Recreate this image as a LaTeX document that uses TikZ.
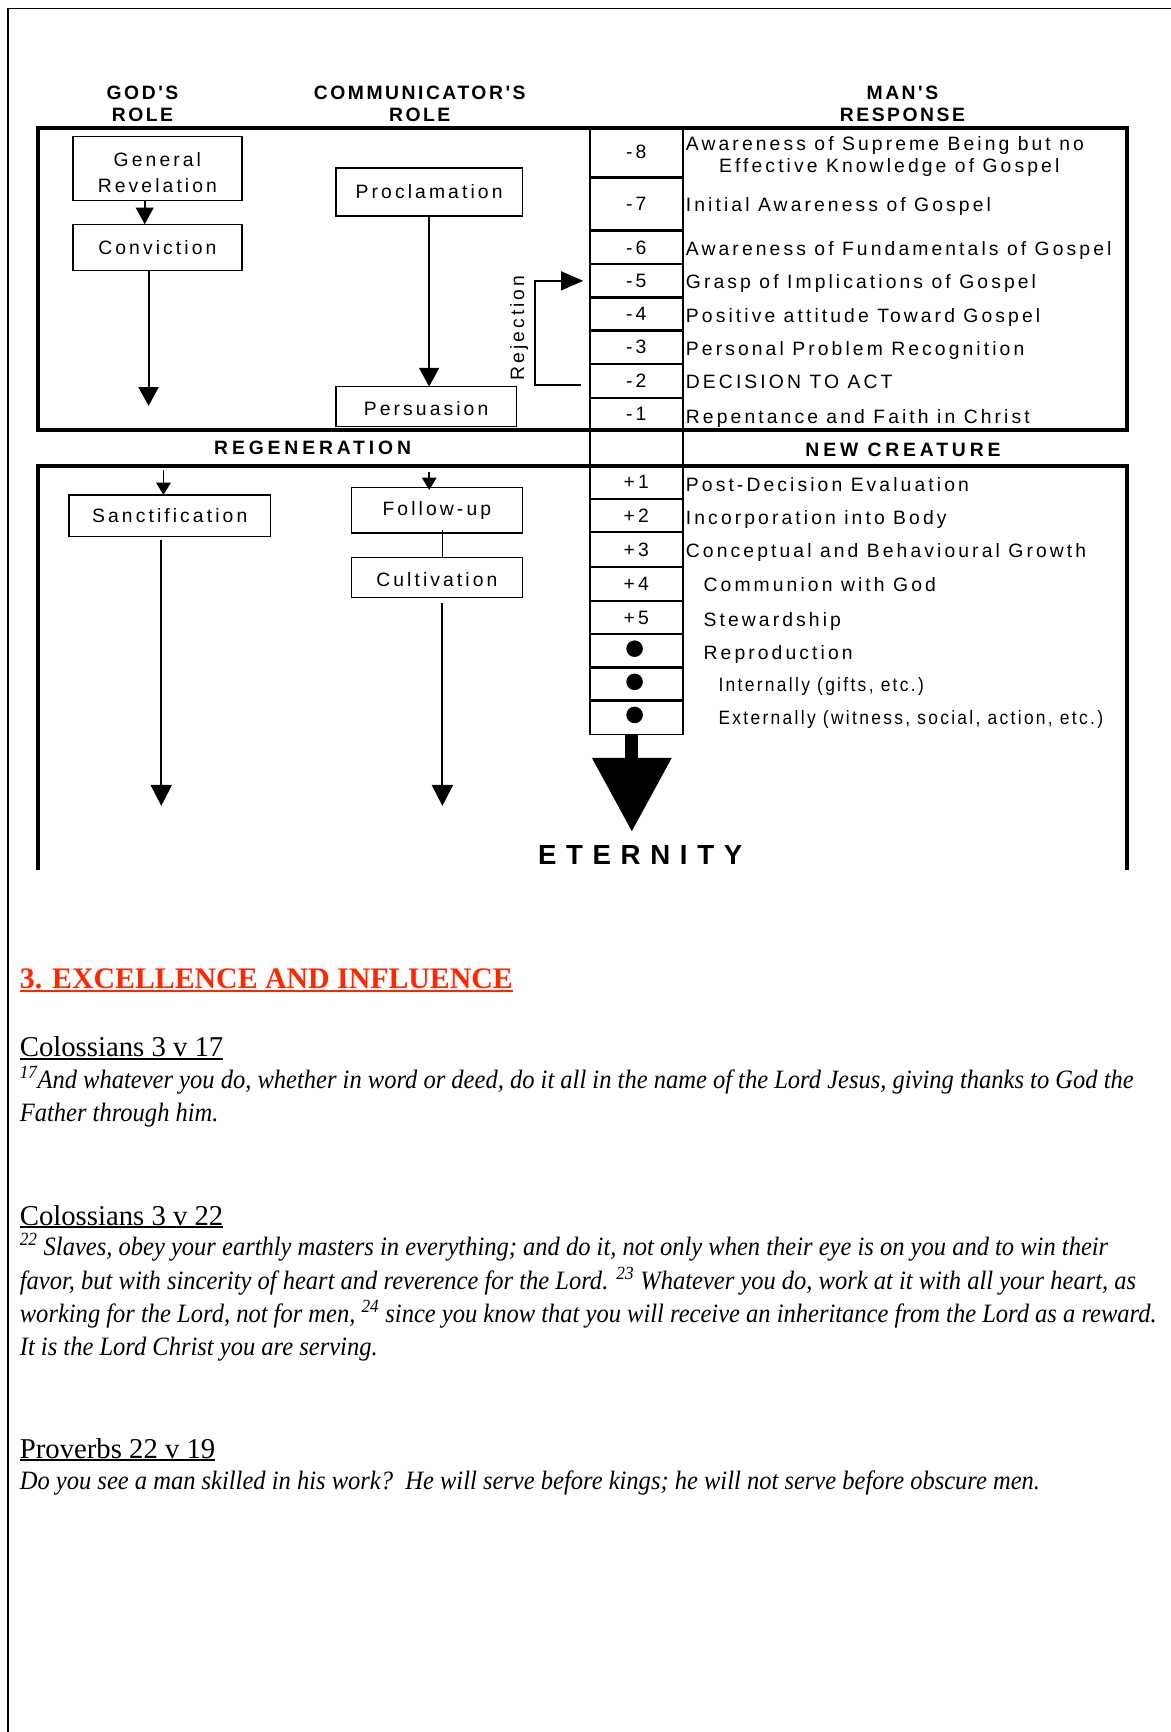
\documentclass[tikz,border=0pt]{standalone}
\usepackage{fontspec}
\usetikzlibrary{arrows.meta}
\setmainfont{Liberation Serif}
\newfontfamily\dgfont[LetterSpace=16]{Liberation Sans}
\newfontfamily\dgnfont[LetterSpace=12,FakeStretch=0.9]{Liberation Sans}
\newfontfamily\hdfont[LetterSpace=13]{Liberation Sans}
\newfontfamily\rgfont[LetterSpace=20]{Liberation Sans}
\newfontfamily\etfont[LetterSpace=35]{Liberation Sans}
\newfontfamily\vsfont{Liberation Serif}
\newfontfamily\vifont[FakeStretch=0.925]{Liberation Serif}
\definecolor{headred}{RGB}{255,38,0}
\newcommand\dgt{\dgfont\fontsize{17.5}{23.5}\selectfont}
\newcommand\dgs{\dgnfont\fontsize{17.5}{19}\selectfont}
\newcommand\hdt{\hdfont\bfseries\fontsize{17.5}{19}\selectfont}
\newcommand\rgt{\rgfont\bfseries\fontsize{17.5}{19}\selectfont}
\newcommand\ett{\etfont\bfseries\fontsize{25}{27}\selectfont}
\newcommand\vst{\vsfont\fontsize{26}{30}\selectfont}
\newcommand\vit{\vifont\itshape\fontsize{24}{30}\selectfont}
\newcommand\vht{\vsfont\bfseries\fontsize{27}{30}\selectfont}
\begin{document}
\begin{tikzpicture}[x=1pt,y=-1pt,
 every node/.style={inner sep=0pt,outer sep=0pt},
 rbox/.style={draw,line width=1.3pt,align=center,font=\dgt},
 cell/.style={draw,line width=1.6pt,minimum width=84pt,font=\dgt},
 item/.style={anchor=base west,font=\dgt},
 subitem/.style={anchor=base west,font=\dgs},
 hd/.style={font=\hdt,anchor=base},
 arr/.style={line width=1.8pt,-{Triangle[width=18pt,length=17pt]}},
 smallarr/.style={line width=1.6pt,-{Triangle[width=13pt,length=11pt]}},
 frame/.style={line width=3.5pt},
 vref/.style={anchor=base west,font=\vst},
 vtxt/.style={anchor=base west,font=\vit}]

\useasboundingbox (0,0) rectangle (1060,1568);
\draw[line width=1.4pt] (7,1568) -- (7,7.5) -- (1060,7.5);

% headers
\node[hd] (godA) at (129,90.5) {GOD'S};
\node[hd] (godB) at (129,110) {ROLE};
\node[hd] (comA) at (380,90.5) {COMMUNICATOR'S};
\node[hd] (comB) at (380,110) {ROLE};
\node[hd] (manA) at (817,90.5) {MAN'S};
\node[hd] (manB) at (817,110) {RESPONSE};

% frames
\draw[frame] (34.5,115.5) rectangle (1020,389.5);
\draw[frame] (34.5,788) -- (34.5,421.5) -- (1020,421.5) -- (1020,788);

% column cells
\node[cell,minimum height=44.5pt] (m8) at (576,137.75) {-8};
\node[cell,minimum height=47.5pt] (m7) at (576,184.75) {-7};
\node[cell,minimum height=30pt] (m6) at (576,224) {-6};
\node[cell,minimum height=29.5pt] (m5) at (576,254.25) {-5};
\node[cell,minimum height=29.5pt] (m4) at (576,284.25) {-4};
\node[cell,minimum height=29.5pt] (m3) at (576,314.25) {-3};
\node[cell,minimum height=30.5pt] (m2) at (576,344.75) {-2};
\node[cell,minimum height=28.5pt] (m1) at (576,374.75) {-1};
\node[cell,minimum height=31pt] (sep) at (576,405.5) {};
\node[cell,minimum height=30pt] (p1) at (576,436.5) {+1};
\node[cell,minimum height=29.5pt] (p2) at (576,466.75) {+2};
\node[cell,minimum height=31pt] (p3) at (576,497.5) {+3};
\node[cell,minimum height=30.5pt] (p4) at (576,528.75) {+4};
\node[cell,minimum height=29.5pt] (p5) at (576,559.25) {+5};
\node[cell,minimum height=29.5pt] (d1) at (576,589.25) {};
\node[cell,minimum height=29.5pt] (d2) at (576,619.25) {};
\node[cell,minimum height=30.5pt] (d3) at (576,649.75) {};
\fill ([shift={(-1.5pt,2pt)}]d1.center) circle (7.5pt);
\fill ([shift={(-1.5pt,2pt)}]d2.center) circle (7.5pt);
\fill ([shift={(-1.5pt,2.5pt)}]d3.center) circle (7.5pt);

% right texts
\node[item] (t8a) at (621,136) {Awareness of Supreme Being but no};
\node[item] (t8b) at (651,156.5) {Effective Knowledge of Gospel};
\node[item] (t7) at (621,191.5) {Initial Awareness of Gospel};
\node[item] (t6) at (621,231) {Awareness of Fundamentals of Gospel};
\node[item] (t5) at (621,261.5) {Grasp of Implications of Gospel};
\node[item] (t4) at (621,292) {Positive attitude Toward Gospel};
\node[item] (t3) at (621,322) {Personal Problem Recognition};
\node[item] (t2) at (621,352) {DECISION TO ACT};
\node[item] (t1) at (621,383) {Repentance and Faith in Christ};
\node[item] (u1) at (621,445) {Post-Decision Evaluation};
\node[item] (u2) at (621,475) {Incorporation into Body};
\node[item] (u3) at (621,505) {Conceptual and Behavioural Growth};
\node[item] (u4) at (637,535.5) {Communion with God};
\node[item] (u5) at (637,567) {Stewardship};
\node[item] (u6) at (637,597) {Reproduction};
\node[subitem] (u7) at (650.5,626) {Internally (gifts, etc.)};
\node[subitem] (u8) at (650.5,656) {Externally (witness, social, action, etc.)};

\node[font=\rgt,anchor=base] (regen) at (283,411.5) {REGENERATION};
\node[font=\rgt,anchor=base] (newcr) at (817.5,413) {NEW CREATURE};

% left boxes
\node[rbox,minimum width=153pt,minimum height=58pt] (gr) at (142.5,152.5) {\rule{0pt}{19.5pt}General\\Revelation};
\node[rbox,minimum width=153pt,minimum height=42pt] (conv) at (142.5,224) {Conviction};
\node[rbox,minimum width=169pt,minimum height=43.5pt] (procl) at (388.5,173.75) {Proclamation};
\node[rbox,minimum width=163.5pt,minimum height=36pt] (pers) at (385.75,368) {\rule{0pt}{17pt}Persuasion};
\node[rbox,minimum width=182.7pt,minimum height=37.7pt] (sanct) at (153.65,466.85) {Sanctification};
\node[rbox,minimum width=155pt,minimum height=41pt] (follow) at (395.5,462) {Follow-up};
\node[rbox,minimum width=155pt,minimum height=36.2pt] (cult) at (395.5,522.8) {\rule{0pt}{16pt}Cultivation};

\node[font=\dgt,rotate=90] (rej) at (470,297) {Rejection};

% coordinates for free ends
\coordinate (convEnd) at (134.5,367.5);
\coordinate (sanctIn) at (148,425.5);
\coordinate (sanctEnd) at (146,729.6);
\coordinate (folIn) at (388.6,427);
\coordinate (cultEnd) at (400.5,729.6);
\coordinate (etTip) at (572,753);

% arrows
\draw[smallarr,-{Triangle[width=16pt,length=15pt]}] ([xshift=-11.5pt]gr.south) -- ([xshift=-11.5pt]conv.north);
\draw[arr] ([xshift=-8pt]conv.south) -- (convEnd);
\draw[arr] (procl.south) -- (procl.south |- pers.north);
\draw[line width=1.8pt,-{Triangle[width=17pt,length=20pt]}]
  ([shift={(-8pt,-3.5pt)}]m2.west) -- ++(-42,0) |- ([xshift=-6pt]m5.west);
\draw[smallarr] (sanctIn) -- ([xshift=-5.65pt]sanct.north);
\draw[arr,-{Triangle[width=19pt,length=19pt]}] ([shift={(-7.65pt,-3.3pt)}]sanct.south) -- (sanctEnd);
\draw[smallarr] (folIn) -- ([shift={(-6.9pt,-2pt)}]follow.north);
\draw[line width=1pt] ([shift={(5.5pt,3pt)}]follow.south) -- ([xshift=5.5pt]cult.north);
\draw[arr,-{Triangle[width=19pt,length=19pt]}] ([shift={(5pt,-5pt)}]cult.south) -- (cultEnd);
\draw[line width=12pt,-{Triangle[width=69pt,length=67pt]}] ([xshift=-4pt]d3.south) -- (etTip);
\node[font=\ett,anchor=base] (etern) at (579.5,783) {ETERNITY};

% lower text
\node[vref,font=\vht,text=headred] (h3) at (18,894.6) {3. EXCELLENCE AND INFLUENCE};
\draw[line width=2pt,headred] ([yshift=-2.5pt]h3.base west) -- ([yshift=-2.5pt]h3.base east);

\node[vref] (c17) at (18,956.5) {Colossians 3 v 17};
\draw[line width=1.5pt] ([yshift=-2pt]c17.base west) -- ([yshift=-2pt]c17.base east);
\node[vtxt] (l17a) at (18,985) {\textsuperscript{17}And whatever you do, whether in word or deed, do it all in the name of the Lord Jesus, giving thanks to God the};
\node[vtxt] (l17b) at (18,1015) {Father through him.};

\node[vref] (c22) at (18,1109) {Colossians 3 v 22};
\draw[line width=1.5pt] ([yshift=-2pt]c22.base west) -- ([yshift=-2pt]c22.base east);
\node[vtxt] (l22a) at (18,1137) {\textsuperscript{22} Slaves, obey your earthly masters in everything; and do it, not only when their eye is on you and to win their};
\node[vtxt] (l22b) at (18,1167) {favor, but with sincerity of heart and reverence for the Lord. \textsuperscript{23} Whatever you do, work at it with all your heart, as};
\node[vtxt] (l22c) at (18,1197) {working for the Lord, not for men, \textsuperscript{24} since you know that you will receive an inheritance from the Lord as a reward.};
\node[vtxt] (l22d) at (18,1227) {It is the Lord Christ you are serving.};

\node[vref] (p22) at (18,1320) {Proverbs 22 v 19};
\draw[line width=1.5pt] ([yshift=-2pt]p22.base west) -- ([yshift=-2pt]p22.base east);
\node[vtxt] (lp) at (18,1348) {Do you see a man skilled in his work?\ \ He will serve before kings; he will not serve before obscure men.};
\end{tikzpicture}
\end{document}
